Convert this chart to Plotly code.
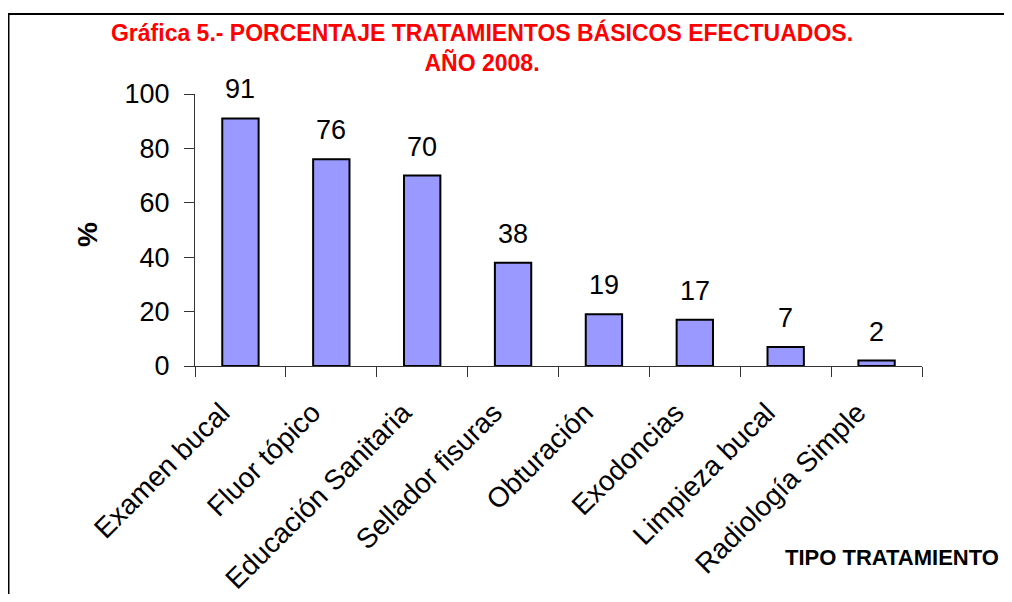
import plotly.graph_objects as go

categories = ["Examen bucal", "Fluor tópico", "Educación Sanitaria", "Sellador fisuras",
              "Obturación", "Exodoncias", "Limpieza bucal", "Radiología Simple"]
values = [91, 76, 70, 38, 19, 17, 7, 2]
y_ticks = [0, 20, 40, 60, 80, 100]

FONT = "Liberation Sans, Arial, sans-serif"

# page has an 8px body margin; keep the figure inside the window (no scrollbars)
W, H = 996, 586
L, R, T, B = 187, 82, 86, 228
PW, PH = W - L - R, H - T - B


def px(xf):
    return (xf - L) / PW


def py(yf):
    return (H - B - yf) / PH


fig = go.Figure()
fig.add_trace(go.Bar(
    x=categories, y=values,
    marker=dict(color="#9999FF", line=dict(color="black", width=2)),
    width=0.4, cliponaxis=False, hoverinfo="skip",
))

annotations = []
for c, v in zip(categories, values):
    annotations.append(dict(x=c, y=v, xref="x", yref="y", text=str(v), showarrow=False,
                            yanchor="bottom", yshift=12,
                            font=dict(family=FONT, size=27, color="black")))
annotations.append(dict(x=px(993), y=py(549), xref="paper", yref="paper", text="<b>TIPO TRATAMIENTO</b>",
                        showarrow=False, xanchor="right", yanchor="middle",
                        font=dict(family=FONT, size=22, color="black")))
annotations.append(dict(x=px(80), y=py(227), xref="paper", yref="paper", text="<b>%</b>",
                        showarrow=False, textangle=-90, xanchor="center", yanchor="middle",
                        font=dict(family=FONT, size=28, color="black")))

fig.update_layout(
    width=W, height=H,
    margin=dict(l=L, r=R, t=T, b=B, autoexpand=False),
    paper_bgcolor="white", plot_bgcolor="white",
    showlegend=False,
    title=dict(text="<b>Gráfica 5.- PORCENTAJE TRATAMIENTOS BÁSICOS EFECTUADOS.<br>AÑO 2008.</b>",
               x=474 / W, y=1 - 33 / H, xref="container", yref="container",
               xanchor="center", yanchor="middle",
               font=dict(family=FONT, size=23, color="#FF0000")),
    annotations=annotations,
    shapes=[
        dict(type="line", xref="paper", yref="paper",
             x0=px(0), x1=px(W + 10), y0=py(6), y1=py(6),
             line=dict(color="black", width=2), layer="above"),
        dict(type="line", xref="paper", yref="paper",
             x0=px(0.5), x1=px(0.5), y0=py(5), y1=py(H + 10),
             line=dict(color="black", width=2), layer="above"),
    ],
    xaxis=dict(showline=True, linecolor="#333", linewidth=1, ticks="outside", ticklen=10,
               tickcolor="#333", tickson="boundaries", tickangle=-45, showgrid=False,
               ticklabelstandoff=18, ticklabelshift=-19, automargin=False,
               tickfont=dict(family=FONT, size=28, color="black"), fixedrange=True),
    yaxis=dict(range=[0, 100], tickvals=y_ticks, showline=True, linecolor="#333", linewidth=1,
               ticks="outside", ticklen=10, tickcolor="#333", showgrid=False, zeroline=False,
               ticklabelstandoff=9, automargin=False,
               tickfont=dict(family=FONT, size=27, color="black"), fixedrange=True),
)

fig.write_html("out.html")
